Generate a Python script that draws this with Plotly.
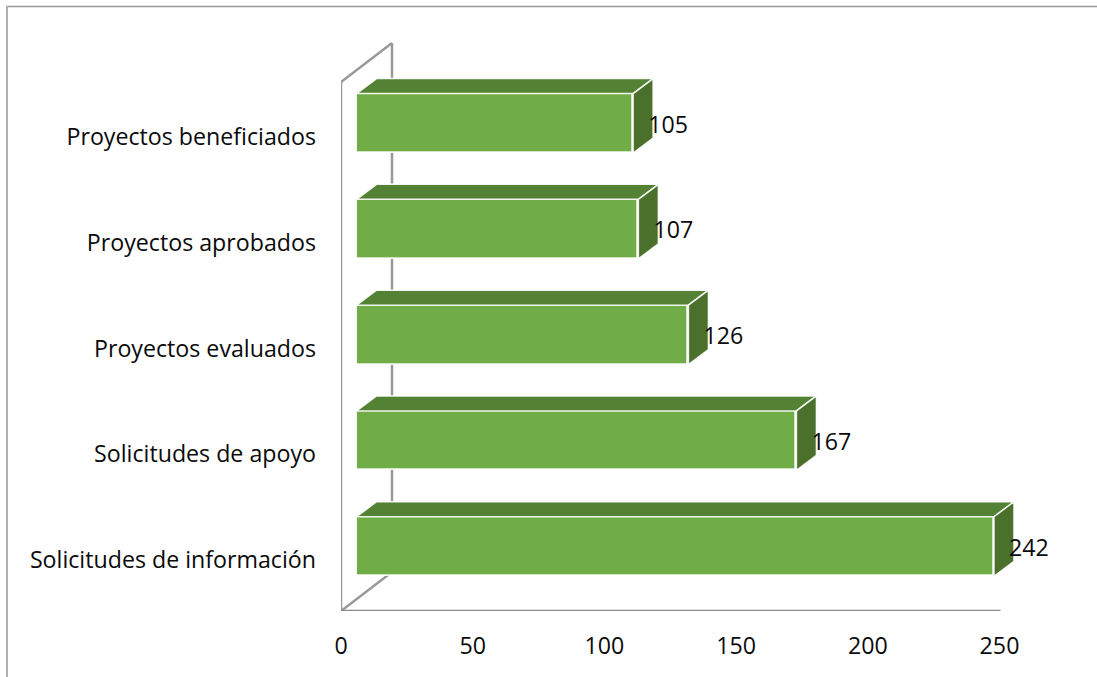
import plotly.graph_objects as go

categories = ["Solicitudes de información", "Solicitudes de apoyo", "Proyectos evaluados",
              "Proyectos aprobados", "Proyectos beneficiados"]
values = [242, 167, 126, 107, 105]
x_ticks = [0, 50, 100, 150, 200, 250]

WIDTH, HEIGHT = 1097, 677
LEFT, RIGHT, TOP, BOTTOM = 341, 1090, 20, 611
PX_X = 2.634    # pixels per unit along the value axis
PX_Y = 105.8    # pixels per category slot
FONT = dict(family="Open Sans, sans-serif", size=23.2, color="#0A0A0A")

# Oblique projection of the box: how far the rear faces are shifted
depth_x, depth_y = 20 / PX_X, 15 / PX_Y
front_x = 5.9                 # front plane starts this far right of the wall
front_y = 11.6 / PX_Y         # and this far above the slot centre
bar_h = 59.5 / PX_Y
wall_x, wall_y = 51 / PX_X, 39 / PX_Y
y_low, y_high = -0.5, 4.5

x_range = [0, (RIGHT - LEFT) / PX_X]
y_range = [y_low, y_low + (BOTTOM - TOP) / PX_Y]

FRONT, TOP_FACE, SIDE_FACE = "#70AD47", "#548235", "#4A702C"
EDGE = "rgba(255,255,255,0.9)"


def page_x(px):
    """Horizontal page pixel as a fraction of the plot area."""
    return (px - LEFT) / (RIGHT - LEFT)


def page_y(px):
    """Vertical page pixel as a fraction of the plot area."""
    return (BOTTOM - px) / (BOTTOM - TOP)


fig = go.Figure()

positions = list(range(len(categories)))

# Front faces of the boxes
fig.add_trace(go.Bar(
    y=positions, x=values, base=front_x, orientation="h",
    width=bar_h, offset=front_y - bar_h / 2,
    marker=dict(color=FRONT, line=dict(color=EDGE, width=1.8)),
    hoverinfo="skip",
))

# Top and right faces, projected from each value
for pos, val in zip(positions, values):
    x0, x1 = front_x, front_x + val
    y0, y1 = pos + front_y - bar_h / 2, pos + front_y + bar_h / 2
    fig.add_trace(go.Scatter(
        x=[x0, x1, x1 + depth_x, x0 + depth_x, x0],
        y=[y1, y1, y1 + depth_y, y1 + depth_y, y1],
        mode="lines", fill="toself", fillcolor=TOP_FACE,
        line=dict(color=EDGE, width=1.5), hoverinfo="skip", cliponaxis=False,
    ))
    fig.add_trace(go.Scatter(
        x=[x1, x1 + depth_x, x1 + depth_x, x1, x1],
        y=[y1, y1 + depth_y, y0 + depth_y, y0, y1],
        mode="lines", fill="toself", fillcolor=SIDE_FACE,
        line=dict(color=EDGE, width=1.5), hoverinfo="skip", cliponaxis=False,
    ))

# Value labels beside each box
fig.add_trace(go.Scatter(
    x=[front_x + v + 35 / PX_X for v in values],
    y=[p + front_y - 3.5 / PX_Y for p in positions],
    text=[str(v) for v in values],
    mode="text", textposition="middle center", textfont=FONT,
    hoverinfo="skip", cliponaxis=False,
))

# Wall and floor outlines behind the boxes
wall_line = dict(color="#999999", width=2.5)
floor_line = dict(color="#8C8C8C", width=2.5)
shapes = [
    dict(type="line", xref="x", yref="y", x0=0, x1=0, y0=y_low, y1=y_high, line=wall_line, layer="below"),
    dict(type="line", xref="x", yref="y", x0=0, x1=wall_x, y0=y_high, y1=y_high + wall_y, line=wall_line, layer="below"),
    dict(type="line", xref="x", yref="y", x0=wall_x, x1=wall_x, y0=y_high + wall_y, y1=y_low + wall_y, line=wall_line, layer="below"),
    dict(type="line", xref="x", yref="y", x0=0, x1=wall_x, y0=y_low, y1=y_low + wall_y, line=wall_line, layer="below"),
    dict(type="line", xref="x", yref="y", x0=0, x1=250.4, y0=y_low, y1=y_low, line=floor_line, layer="below"),
    # Outer frame of the chart area, top and left only
    dict(type="line", xref="paper", yref="paper", x0=page_x(6), x1=page_x(WIDTH), y0=page_y(6.5), y1=page_y(6.5),
         line=dict(color="#999999", width=1.5), layer="below"),
    dict(type="line", xref="paper", yref="paper", x0=page_x(7), x1=page_x(7), y0=page_y(HEIGHT), y1=page_y(6),
         line=dict(color="#B0B0B0", width=2), layer="below"),
]

fig.update_layout(
    width=WIDTH, height=HEIGHT,
    margin=dict(l=LEFT, r=WIDTH - RIGHT, t=TOP, b=HEIGHT - BOTTOM, pad=0),
    paper_bgcolor="white", plot_bgcolor="white",
    showlegend=False, shapes=shapes, bargap=0,
    font=FONT,
    xaxis=dict(range=x_range, tickmode="array", tickvals=x_ticks, ticks="",
               showgrid=False, zeroline=False, showline=False, tickfont=FONT,
               ticklabelstandoff=19),
    # Category labels sit a touch below the slot centres
    yaxis=dict(range=y_range, tickmode="array", tickvals=[p - 2 / PX_Y for p in positions],
               ticktext=categories, ticks="",
               showgrid=False, zeroline=False, showline=False, tickfont=FONT,
               ticklabelstandoff=24),
)

fig.write_html("out.html")
